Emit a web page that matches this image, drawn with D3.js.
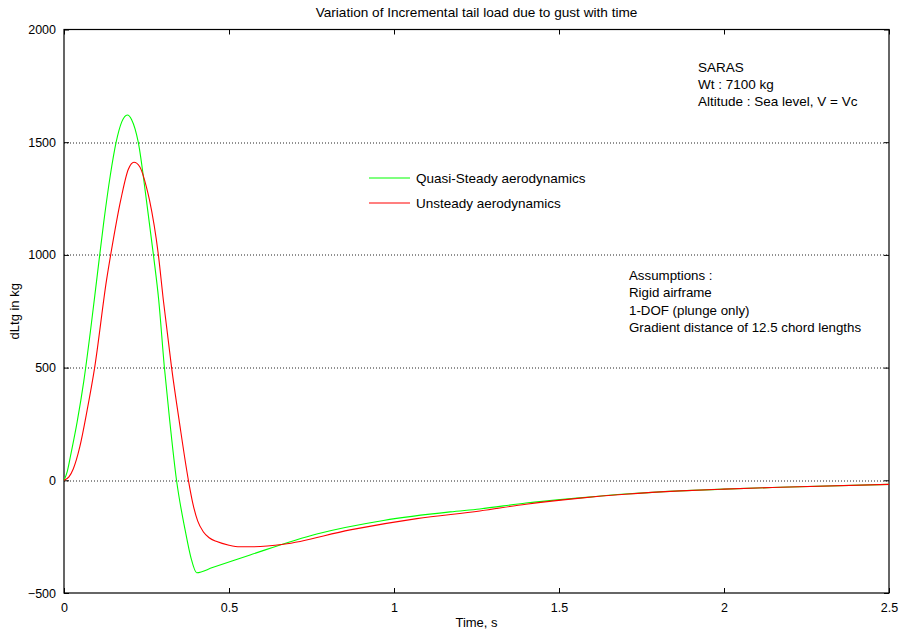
<!DOCTYPE html>
<html>
<head>
<meta charset="utf-8">
<script src="https://cdn.jsdelivr.net/npm/d3@7"></script>
<style>
  body { margin: 0; background: #fff; }
  svg text { font-family: "Liberation Sans", Arial, sans-serif; fill: #000; }
</style>
</head>
<body>
<div id="chart"></div>
<script>
// time samples (s) and incremental tail load (kg)
var tQuasi = [0, 0.01, 0.02, 0.04, 0.06, 0.08, 0.1, 0.12, 0.14, 0.158, 0.175, 0.192, 0.205, 0.225, 0.25, 0.271, 0.287, 0.304, 0.32, 0.341, 0.367, 0.385, 0.402, 0.45, 0.564, 0.766, 0.968, 1.17, 1.26, 1.4, 1.564, 1.7, 1.867, 2.0, 2.17, 2.5];
var quasiSteady = [0, 40, 110, 260, 440, 660, 900, 1140, 1350, 1500, 1590, 1621, 1600, 1500, 1240, 1000, 800, 504, 270, 0, -220, -345, -410, -387, -331, -238, -178, -140, -127, -101, -78, -61, -47, -39, -31, -18];

var tUnsteady = [0, 0.015, 0.028, 0.048, 0.07, 0.093, 0.129, 0.144, 0.172, 0.195, 0.212, 0.23, 0.25, 0.259, 0.286, 0.301, 0.326, 0.35, 0.377, 0.39, 0.405, 0.422, 0.44, 0.463, 0.5, 0.533, 0.564, 0.665, 0.867, 1.069, 1.26, 1.4, 1.564, 1.7, 1.867, 2.0, 2.17, 2.5];
var unsteady = [0, 15, 50, 149, 310, 501, 889, 1022, 1244, 1380, 1411, 1390, 1300, 1244, 1000, 800, 500, 255, 0, -100, -180, -228, -255, -272, -288, -295, -295, -284, -220, -170, -136, -106, -79, -62, -47, -39, -31, -18];

var xTicks = [0, 0.5, 1, 1.5, 2, 2.5];
var yTicks = [-500, 0, 500, 1000, 1500, 2000];
var gridValues = [0, 500, 1000, 1500];

var seriesNames = ["Quasi-Steady aerodynamics", "Unsteady aerodynamics"];
var seriesColors = ["#00ff00", "#ff0000"];
var infoLines = ["SARAS", "Wt : 7100 kg", "Altitude : Sea level, V = Vc"];
var assumptionLines = ["Assumptions :", "Rigid airframe", "1-DOF (plunge only)", "Gradient distance of 12.5 chord lengths"];

var width = 900, height = 632;
var margin = { top: 29.5, right: 11, bottom: 39, left: 64 };
var w = width - margin.left - margin.right;
var h = height - margin.top - margin.bottom;

var svg = d3.select("#chart").append("svg")
	.attr("width", width)
	.attr("height", height);

var g = svg.append("g")
	.attr("transform", "translate(" + margin.left + "," + margin.top + ")");

var x = d3.scaleLinear().domain([0, 2.5]).range([0, w]);
var y = d3.scaleLinear().domain([-500, 2000]).range([h, 0]);

// dotted horizontal grid
g.selectAll(".grid")
	.data(gridValues)
	.enter()
	.append("line")
	.attr("class", "grid")
	.attr("x1", 0)
	.attr("x2", w)
	.attr("y1", function (d) { return Math.round(y(d)) + 0.5; })
	.attr("y2", function (d) { return Math.round(y(d)) + 0.5; })
	.attr("stroke", "#222")
	.attr("stroke-width", 1)
	.attr("stroke-dasharray", "1,2");

// axes: ticks point inward on all four sides
var tickLen = 5;
function styleAxis(sel, showText) {
	sel.select(".domain").remove();
	sel.selectAll(".tick line").attr("stroke", "#000");
	sel.selectAll(".tick text")
		.style("font-size", "12.5px")
		.style("display", showText ? null : "none");
}

g.append("g")
	.attr("transform", "translate(0," + h + ")")
	.call(d3.axisBottom(x).tickValues(xTicks).tickFormat(d3.format("")).tickSizeInner(-tickLen).tickSizeOuter(0).tickPadding(10))
	.call(styleAxis, true);

g.append("g")
	.call(d3.axisTop(x).tickValues(xTicks).tickSizeInner(-tickLen).tickSizeOuter(0))
	.call(styleAxis, false);

g.append("g")
	.call(d3.axisLeft(y).tickValues(yTicks).tickFormat(d3.format("")).tickSizeInner(-tickLen).tickSizeOuter(0).tickPadding(8))
	.call(styleAxis, true);

g.append("g")
	.attr("transform", "translate(" + w + ",0)")
	.call(d3.axisRight(y).tickValues(yTicks).tickSizeInner(-tickLen).tickSizeOuter(0))
	.call(styleAxis, false);

// frame
g.append("rect")
	.attr("x", 0)
	.attr("y", 0)
	.attr("width", w)
	.attr("height", h)
	.attr("fill", "none")
	.attr("stroke", "#000")
	.attr("stroke-width", 1.2);

// curves
var line = d3.line()
	.x(function (d) { return x(d[0]); })
	.y(function (d) { return y(d[1]); })
	.curve(d3.curveMonotoneX);

var series = [d3.zip(tQuasi, quasiSteady), d3.zip(tUnsteady, unsteady)];

g.selectAll(".series")
	.data(series)
	.enter()
	.append("path")
	.attr("class", "series")
	.attr("d", line)
	.attr("fill", "none")
	.attr("stroke", function (d, i) { return seriesColors[i]; })
	.attr("stroke-width", 1.1);

// legend
var legend = svg.append("g").attr("transform", "translate(369,178)");
seriesNames.forEach(function (name, i) {
	legend.append("line")
		.attr("x1", 0).attr("x2", 41)
		.attr("y1", i * 25).attr("y2", i * 25)
		.attr("stroke", seriesColors[i])
		.attr("stroke-width", 1.1);
	legend.append("text")
		.attr("x", 47)
		.attr("y", i * 25 + 5)
		.style("font-size", "13.5px")
		.text(name);
});

// annotations
svg.append("g").selectAll("text")
	.data(infoLines)
	.enter()
	.append("text")
	.attr("x", 698)
	.attr("y", function (d, i) { return 72 + i * 17; })
	.style("font-size", "13.5px")
	.text(function (d) { return d; });

svg.append("g").selectAll("text")
	.data(assumptionLines)
	.enter()
	.append("text")
	.attr("x", 629)
	.attr("y", function (d, i) { return 280 + i * 17.3; })
	.style("font-size", "13.3px")
	.text(function (d) { return d; });

// titles
svg.append("text")
	.attr("x", margin.left + w / 2)
	.attr("y", 17)
	.attr("text-anchor", "middle")
	.style("font-size", "13.6px")
	.text("Variation of Incremental tail load due to gust with time");

svg.append("text")
	.attr("x", margin.left + w / 2)
	.attr("y", 627)
	.attr("text-anchor", "middle")
	.style("font-size", "13px")
	.text("Time, s");

svg.append("text")
	.attr("transform", "translate(19," + (margin.top + h / 2) + ") rotate(-90)")
	.attr("text-anchor", "middle")
	.style("font-size", "13px")
	.text("dLtg in kg");
</script>
</body>
</html>
